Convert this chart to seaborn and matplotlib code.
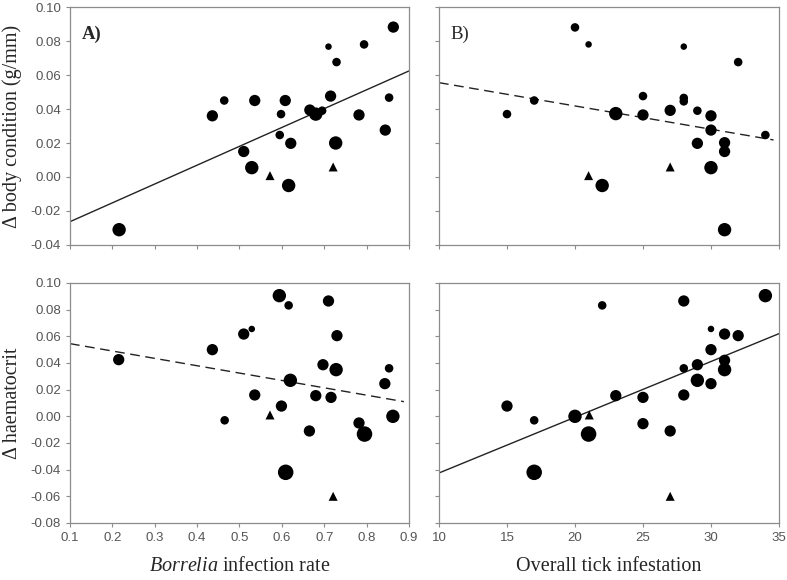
import pandas as pd
import matplotlib.pyplot as plt
import seaborn as sns

# values
# A) Borrelia infection rate vs delta body condition
a_x = [0.216, 0.436, 0.464, 0.536, 0.510, 0.529, 0.598, 0.608, 0.595, 0.621, 0.616, 0.666,
       0.680, 0.695, 0.710, 0.715, 0.729, 0.727, 0.782, 0.794, 0.844, 0.853, 0.863]
a_y = [-0.031, 0.036, 0.045, 0.045, 0.015, 0.0055, 0.037, 0.045, 0.0247, 0.0198, -0.005, 0.0394,
       0.037, 0.039, 0.0767, 0.0476, 0.0676, 0.020, 0.0365, 0.078, 0.0276, 0.0467, 0.0882]
a_n = [4, 3, 2, 3, 3, 4, 2, 3, 2, 3, 4, 3, 4, 2, 1, 3, 2, 4, 3, 2, 3, 2, 3]
a_tri_x = [0.572, 0.721]
a_tri_y = [0.0008, 0.0059]
a_fit_x = [0.1, 0.9]
a_fit_y = [-0.0263, 0.0624]

# B) tick infestation vs delta body condition
b_x = [15, 17, 20, 21, 22, 23, 25, 25, 27, 28, 28, 28, 29, 29, 30, 30, 30, 31, 31, 31, 32, 34]
b_y = [0.037, 0.045, 0.088, 0.078, -0.005, 0.0373, 0.0476, 0.0365, 0.0392, 0.0767, 0.0465, 0.0445,
       0.039, 0.0198, 0.036, 0.0276, 0.0055, 0.0202, 0.015, -0.031, 0.0676, 0.0247]
b_n = [2, 2, 2, 1, 4, 4, 2, 3, 3, 1, 2, 2, 2, 3, 3, 3, 4, 3, 3, 4, 2, 2]
b_tri_x = [21, 27]
b_tri_y = [0.0008, 0.0059]
b_fit_x = [10, 34.6]
b_fit_y = [0.0555, 0.0218]

# C) Borrelia infection rate vs delta haematocrit
c_x = [0.215, 0.436, 0.465, 0.510, 0.529, 0.536, 0.594, 0.616, 0.599, 0.620, 0.609, 0.665,
       0.680, 0.697, 0.710, 0.716, 0.728, 0.730, 0.782, 0.795, 0.843, 0.853, 0.862]
c_y = [0.0425, 0.050, -0.003, 0.0617, 0.0655, 0.016, 0.0905, 0.0832, 0.0077, 0.027, -0.042, -0.011,
       0.0155, 0.0387, 0.0865, 0.0142, 0.035, 0.0605, -0.005, -0.0133, 0.0245, 0.036, 0.000]
c_n = [3, 3, 2, 3, 1, 3, 4, 2, 3, 4, 5, 3, 3, 3, 3, 3, 4, 3, 3, 5, 3, 2, 4]
c_tri_x = [0.572, 0.721]
c_tri_y = [0.001, -0.060]
c_fit_x = [0.1, 0.888]
c_fit_y = [0.0545, 0.011]

# D) tick infestation vs delta haematocrit
d_x = [15, 17, 17, 20, 21, 22, 23, 25, 25, 27, 28, 28, 28, 29, 29, 30, 30, 30, 31, 31, 31, 32, 34]
d_y = [0.0077, -0.003, -0.042, 0.000, -0.0133, 0.0832, 0.0155, 0.0142, -0.0055, -0.011, 0.0865, 0.036,
       0.016, 0.0387, 0.027, 0.0655, 0.050, 0.0245, 0.0617, 0.042, 0.035, 0.0605, 0.0905]
d_n = [3, 2, 5, 4, 5, 2, 3, 3, 3, 3, 3, 2, 3, 3, 4, 1, 3, 3, 3, 3, 4, 3, 4]
d_tri_x = [21.05, 27]
d_tri_y = [0.001, -0.060]
d_fit_x = [10, 35]
d_fit_y = [-0.0425, 0.062]

sns.set_style("ticks")
plt.rcParams['font.family'] = ['Liberation Sans', 'DejaVu Sans']
plt.rcParams['mathtext.fontset'] = 'custom'
plt.rcParams['mathtext.it'] = 'Liberation Serif:italic'
plt.rcParams['mathtext.rm'] = 'Liberation Serif'

fig = plt.figure(figsize=(7.87, 5.8), dpi=100)
ax_a = fig.add_axes([0.0889, 0.5776, 0.4308, 0.4103])
ax_b = fig.add_axes([0.5578, 0.5776, 0.4320, 0.4103])
ax_c = fig.add_axes([0.0889, 0.0983, 0.4308, 0.4138])
ax_d = fig.add_axes([0.5578, 0.0983, 0.4320, 0.4138])

size_map = {1: 22, 2: 38, 3: 66, 4: 93, 5: 125}

panels = [
    (ax_a, a_x, a_y, a_n, a_tri_x, a_tri_y, a_fit_x, a_fit_y, '-'),
    (ax_b, b_x, b_y, b_n, b_tri_x, b_tri_y, b_fit_x, b_fit_y, '--'),
    (ax_c, c_x, c_y, c_n, c_tri_x, c_tri_y, c_fit_x, c_fit_y, '--'),
    (ax_d, d_x, d_y, d_n, d_tri_x, d_tri_y, d_fit_x, d_fit_y, '-'),
]

for ax, x, y, n, tx, ty, fx, fy, ls in panels:
    df = pd.DataFrame({'x': x, 'y': y, 'n': n})
    sns.scatterplot(data=df, x='x', y='y', size='n', sizes=size_map, color='black',
                    edgecolor='none', linewidth=0, legend=False, ax=ax, zorder=3)
    sns.scatterplot(x=tx, y=ty, marker='^', s=42, color='black', edgecolor='none',
                    legend=False, ax=ax, zorder=3)
    sns.lineplot(x=fx, y=fy, color='#222222', linewidth=1.0, ax=ax, zorder=2)
    if ls == '--':
        ax.lines[-1].set_dashes([7, 4])
    for sp in ax.spines.values():
        sp.set_color('#8c8c8c')
        sp.set_linewidth(0.9)
    ax.tick_params(direction='out', length=3, width=0.8, color='#8c8c8c',
                   labelsize=9.5, labelcolor='#555555')
    ax.set_xlabel('')
    ax.set_ylabel('')

top_ticks = [-0.04, -0.02, 0.0, 0.02, 0.04, 0.06, 0.08, 0.10]
bot_ticks = [-0.08, -0.06, -0.04, -0.02, 0.0, 0.02, 0.04, 0.06, 0.08, 0.10]
rate_ticks = [0.1, 0.2, 0.3, 0.4, 0.5, 0.6, 0.7, 0.8, 0.9]
tick_ticks = [10, 15, 20, 25, 30, 35]

for ax in (ax_a, ax_b):
    ax.set_ylim(-0.04, 0.10)
    ax.set_yticks(top_ticks)
for ax in (ax_c, ax_d):
    ax.set_ylim(-0.08, 0.10)
    ax.set_yticks(bot_ticks)
for ax in (ax_a, ax_c):
    ax.set_xlim(0.1, 0.9)
    ax.set_xticks(rate_ticks)
    ax.set_yticklabels([f'{v:.2f}' for v in ax.get_yticks()])
for ax in (ax_b, ax_d):
    ax.set_xlim(10, 35)
    ax.set_xticks(tick_ticks)
    ax.set_yticklabels([])
for ax in (ax_a, ax_b):
    ax.set_xticklabels([])
ax_c.set_xticklabels([f'{v:.1f}' for v in rate_ticks])
ax_d.set_xticklabels([str(v) for v in tick_ticks])

serif = ['Liberation Serif', 'DejaVu Serif']
ax_a.text(0.035, 0.865, 'A)', transform=ax_a.transAxes, fontsize=13.5, family=serif, fontweight='bold')
ax_b.text(0.035, 0.865, 'B)', transform=ax_b.transAxes, fontsize=13.5, family=serif)

ax_a.set_ylabel('Δ body condition (g/mm)', fontsize=14.5, family=serif, labelpad=6)
ax_c.set_ylabel('Δ haematocrit', fontsize=14.5, family=serif, labelpad=6)
ax_c.set_xlabel(r'$\it{Borrelia}$ infection rate', fontsize=14.5, family=serif, labelpad=9)
ax_d.set_xlabel('Overall tick infestation', fontsize=14.5, family=serif, labelpad=9)

plt.savefig('out.png', dpi=100)
plt.close()
